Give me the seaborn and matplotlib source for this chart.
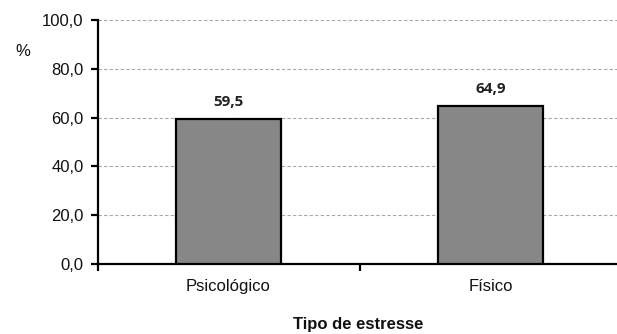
import matplotlib
matplotlib.use("Agg")
import matplotlib.pyplot as plt
from matplotlib.ticker import FuncFormatter, FixedLocator
import seaborn as sns
import pandas as pd

categorias = ["Psicológico", "Físico"]
percentuais = [59.5, 64.9]
rotulos = ["59,5", "64,9"]

sns.set_theme(style="white")
plt.rcParams["font.family"] = ["Liberation Sans", "DejaVu Sans"]

df = pd.DataFrame({"tipo": categorias, "pct": percentuais})

fig = plt.figure(figsize=(6.17, 3.34), dpi=100)
ax = fig.add_axes([97.5 / 617, 0.2096, 524 / 617, 0.7305])

sns.barplot(data=df, x="tipo", y="pct", ax=ax, color="#878787",
            saturation=1, width=0.40, edgecolor="black", linewidth=1.6,
            zorder=3)

ax.set_ylim(0, 100)
ax.set_xlim(-0.5, 1.5)
ax.set_yticks([0, 20, 40, 60, 80, 100])
ax.yaxis.set_major_formatter(FuncFormatter(lambda v, p: f"{v:.1f}".replace(".", ",")))
ax.yaxis.grid(True, color="#a8a8a8", linestyle=(0, (3, 2)), linewidth=0.8, zorder=0)
ax.xaxis.grid(False)

for s in ["top", "right"]:
    ax.spines[s].set_visible(False)
for s in ["left", "bottom"]:
    ax.spines[s].set_color("black")
    ax.spines[s].set_linewidth(1.6)

ax.tick_params(axis="y", which="major", left=True, length=5, width=1.6,
               color="black", labelsize=12, pad=5, labelcolor="#111111")
ax.tick_params(axis="x", which="major", bottom=False, labelsize=12,
               pad=5, labelcolor="#111111")
ax.xaxis.set_minor_locator(FixedLocator([-0.5, 0.5, 1.5]))
ax.tick_params(axis="x", which="minor", bottom=True, length=5, width=1.6,
               color="black")

for i, (v, t) in enumerate(zip(percentuais, rotulos)):
    ax.text(i, v + 4, t, ha="center", va="bottom", fontsize=11,
            fontweight="bold", family=["Open Sans", "DejaVu Sans"], color="#222222")

ax.set_xlabel("Tipo de estresse", fontsize=12, fontweight="bold", color="#111111")
ax.xaxis.set_label_coords((358 - 97.5) / 524, -0.25)
ax.xaxis.label.set_verticalalignment("center")
ax.set_ylabel("")
fig.text(15 / 617, 1 - 52 / 334, "%", ha="left", va="center", fontsize=12,
         color="#111111")

fig.savefig("out.png", dpi=100)
